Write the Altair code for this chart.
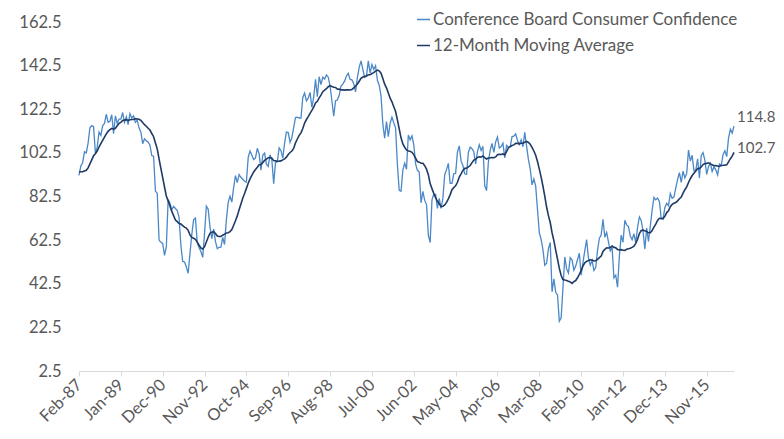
import altair as alt
import pandas as pd

# 11 months before the plotted window (Mar-86 .. Jan-87), used only to seed the 12-month average
pre_values = [95.0, 98.0, 98.5, 98.5, 94.0, 92.0, 93.0, 92.0, 91.0, 90.0, 90.2]

# Conference Board Consumer Confidence, Feb-87 .. Feb-17 (monthly)
cci_1987 = [92.2, 96.5, 98.0, 103.0, 102.5, 107.0, 114.0, 115.0, 114.5, 102.5, 105.0]
cci_1988 = [112.0, 110.5, 115.0, 116.0, 120.2, 116.5, 117.0, 120.0, 111.3, 119.5, 116.0, 118.0]
cci_1989 = [118.0, 121.0, 116.5, 119.0, 115.5, 120.5, 118.5, 119.5, 116.5, 117.5, 114.0, 112.0]
cci_1990 = [106.7, 109.0, 108.0, 107.5, 106.0, 101.3, 101.0, 85.0, 84.0, 62.5, 61.5, 61.0]
cci_1991 = [55.5, 59.4, 81.1, 79.4, 76.4, 78.0, 77.0, 76.1, 72.9, 60.1, 52.7, 52.5]
cci_1992 = [50.2, 47.3, 56.5, 65.1, 71.9, 72.6, 61.2, 59.0, 57.3, 54.6, 65.6, 78.1]
cci_1993 = [76.7, 68.5, 63.2, 67.6, 61.9, 58.6, 59.2, 59.3, 63.8, 60.5, 71.9, 79.8]
cci_1994 = [82.6, 79.9, 86.7, 92.1, 88.9, 92.5, 91.3, 90.4, 89.5, 89.1, 100.4, 103.4]
cci_1995 = [101.4, 99.4, 100.2, 104.6, 102.0, 94.6, 101.4, 102.4, 97.3, 96.3, 101.6, 99.2]
cci_1996 = [88.4, 98.0, 98.4, 104.8, 103.5, 100.1, 107.0, 112.0, 111.8, 107.3, 109.5, 114.2]
cci_1997 = [118.7, 118.9, 118.5, 118.5, 127.9, 129.9, 126.3, 127.6, 130.2, 123.4, 128.1, 136.2]
cci_1998 = [128.3, 137.4, 133.8, 137.2, 136.3, 138.2, 137.2, 133.1, 126.4, 119.3, 126.4, 126.7]
cci_1999 = [128.9, 133.1, 134.0, 135.5, 137.7, 139.0, 136.2, 136.0, 134.2, 130.5, 137.0, 141.7]
cci_2000 = [144.7, 140.8, 137.1, 137.7, 144.7, 139.2, 143.0, 140.8, 142.5, 135.8, 133.5, 128.6]
cci_2001 = [115.7, 109.2, 116.9, 109.9, 116.1, 118.9, 116.3, 114.0, 97.0, 85.3, 84.9, 94.6]
cci_2002 = [97.8, 95.0, 110.7, 108.5, 110.3, 106.3, 97.4, 94.5, 93.7, 79.6, 84.9, 80.7]
cci_2003 = [78.8, 64.8, 61.4, 81.0, 83.6, 83.5, 77.0, 81.7, 77.0, 81.7, 92.5, 94.8]
cci_2004 = [97.7, 88.5, 88.5, 93.0, 93.1, 102.8, 105.7, 98.7, 96.7, 92.9, 92.6, 102.7]
cci_2005 = [105.1, 104.4, 103.0, 97.5, 103.1, 106.2, 103.6, 105.5, 87.5, 85.2, 98.3, 103.8]
cci_2006 = [106.8, 102.7, 107.5, 109.8, 104.7, 105.4, 107.0, 100.2, 105.9, 105.1, 105.3, 110.0]
cci_2007 = [110.2, 111.2, 108.2, 106.3, 108.5, 105.3, 111.9, 105.6, 99.5, 95.2, 87.8, 90.6]
cci_2008 = [87.3, 76.4, 65.9, 62.8, 58.1, 51.0, 51.9, 58.5, 61.4, 38.8, 44.7, 38.6]
cci_2009 = [37.4, 25.3, 26.9, 40.8, 54.8, 49.3, 47.4, 54.5, 53.4, 48.7, 50.6, 53.6]
cci_2010 = [56.5, 46.4, 52.3, 57.7, 62.7, 54.3, 51.0, 53.2, 48.6, 49.9, 57.8, 63.4]
cci_2011 = [64.8, 72.0, 63.8, 66.0, 61.7, 57.6, 59.2, 45.2, 46.4, 40.9, 55.2, 64.8]
cci_2012 = [61.5, 71.6, 69.5, 68.7, 64.4, 62.7, 65.4, 61.3, 68.4, 73.1, 71.5, 66.7]
cci_2013 = [58.4, 68.0, 61.9, 69.0, 76.2, 82.1, 81.0, 81.8, 80.2, 72.4, 72.0, 77.5]
cci_2014 = [79.4, 78.3, 83.9, 81.7, 82.2, 86.4, 90.3, 93.4, 89.0, 94.1, 91.0, 93.1]
cci_2015 = [103.8, 98.8, 101.4, 94.3, 94.6, 99.8, 91.0, 101.3, 102.6, 99.1, 92.6, 96.3]
cci_2016 = [97.8, 94.0, 96.1, 94.7, 92.4, 97.4, 96.7, 101.8, 103.5, 100.8, 109.4, 113.3]
cci_2017 = [111.6, 114.8]

cci_values = (cci_1987 + cci_1988 + cci_1989 + cci_1990 + cci_1991 + cci_1992 + cci_1993
              + cci_1994 + cci_1995 + cci_1996 + cci_1997 + cci_1998 + cci_1999 + cci_2000
              + cci_2001 + cci_2002 + cci_2003 + cci_2004 + cci_2005 + cci_2006 + cci_2007
              + cci_2008 + cci_2009 + cci_2010 + cci_2011 + cci_2012 + cci_2013 + cci_2014
              + cci_2015 + cci_2016 + cci_2017)

x_tick_labels = ["Feb-87", "Jan-89", "Dec-90", "Nov-92", "Oct-94", "Sep-96", "Aug-98", "Jul-00",
                 "Jun-02", "May-04", "Apr-06", "Mar-08", "Feb-10", "Jan-12", "Dec-13", "Nov-15"]
tick_step = 23
y_ticks = [2.5, 22.5, 42.5, 62.5, 82.5, 102.5, 122.5, 142.5, 162.5]
series_names = ["Conference Board Consumer Confidence", "12-Month Moving Average"]
series_colors = ["#4a88c7", "#1f3a64"]

n_pre = len(pre_values)
last_i = len(cci_values) - 1
df = pd.DataFrame({"i": list(range(-n_pre, len(cci_values))),
                   "value": pre_values + cci_values})

FONT = "Lato"
TXT = "#595959"

label_array = "[" + ",".join("'" + s + "'" for s in x_tick_labels) + "]"

x_enc = alt.X("i:Q",
              scale=alt.Scale(domain=[0, last_i], nice=False, zero=False),
              axis=alt.Axis(values=[k * tick_step for k in range(len(x_tick_labels))],
                            labelExpr=label_array + "[round(datum.value/" + str(tick_step) + ")]",
                            labelAngle=-45, labelAlign="right", labelBaseline="middle",
                            labelPadding=6, tickSize=5, tickColor="#d9d9d9",
                            domainColor="#d9d9d9", grid=False, title=None,
                            labelFont=FONT, labelFontSize=16.5, labelColor=TXT,
                            labelOverlap=False))
y_scale = alt.Scale(domain=[2.5, 162.5], nice=False, zero=False)
y_axis = alt.Axis(values=y_ticks, format=".1f", domain=False, ticks=False, grid=False,
                  title=None, labelFont=FONT, labelFontSize=16.5, labelColor=TXT,
                  labelPadding=18)

color_enc = alt.Color("series:N",
                      scale=alt.Scale(domain=series_names, range=series_colors),
                      legend=alt.Legend(title=None, orient="none", legendX=336, legendY=-11,
                                        direction="vertical", symbolType="stroke",
                                        symbolSize=169, symbolStrokeWidth=1.5,
                                        labelFont=FONT, labelFontSize=17, labelColor=TXT,
                                        labelLimit=500,
                                        rowPadding=8, labelOffset=1, padding=0))

base = alt.Chart(df)

raw_line = (base.transform_filter("datum.i >= 0")
            .transform_calculate(series="'" + series_names[0] + "'")
            .mark_line(strokeWidth=1.3)
            .encode(x=x_enc, y=alt.Y("value:Q", scale=y_scale, axis=y_axis), color=color_enc))

ma_base = (base.transform_window(ma="mean(value)", frame=[-11, 0], sort=[alt.SortField("i")])
           .transform_filter("datum.i >= 0"))

ma_line = (ma_base.transform_calculate(series="'" + series_names[1] + "'")
           .mark_line(strokeWidth=1.6)
           .encode(x=x_enc, y=alt.Y("ma:Q", scale=y_scale, axis=y_axis), color=color_enc))

raw_label = (base.transform_filter("datum.i == " + str(last_i))
             .mark_text(align="left", baseline="middle", dx=3, dy=-9, font=FONT,
                        fontSize=15, color=TXT)
             .encode(x=x_enc, y=alt.Y("value:Q", scale=y_scale, axis=y_axis),
                     text=alt.Text("value:Q", format=".1f")))

ma_label = (ma_base.transform_filter("datum.i == " + str(last_i))
            .mark_text(align="left", baseline="middle", dx=3, dy=-4, font=FONT,
                       fontSize=15, color=TXT)
            .encode(x=x_enc, y=alt.Y("ma:Q", scale=y_scale, axis=y_axis),
                    text=alt.Text("ma:Q", format=".1f")))

chart = (alt.layer(raw_line, ma_line, raw_label, ma_label)
         .properties(width=655, height=349,
                     autosize=alt.AutoSizeParams(type="none"),
                     padding={"left": 71, "top": 14, "right": 42, "bottom": 60},
                     background="white")
         .configure_view(stroke=None))

chart.save("out.html", embed_options={"renderer": "svg", "actions": False})
